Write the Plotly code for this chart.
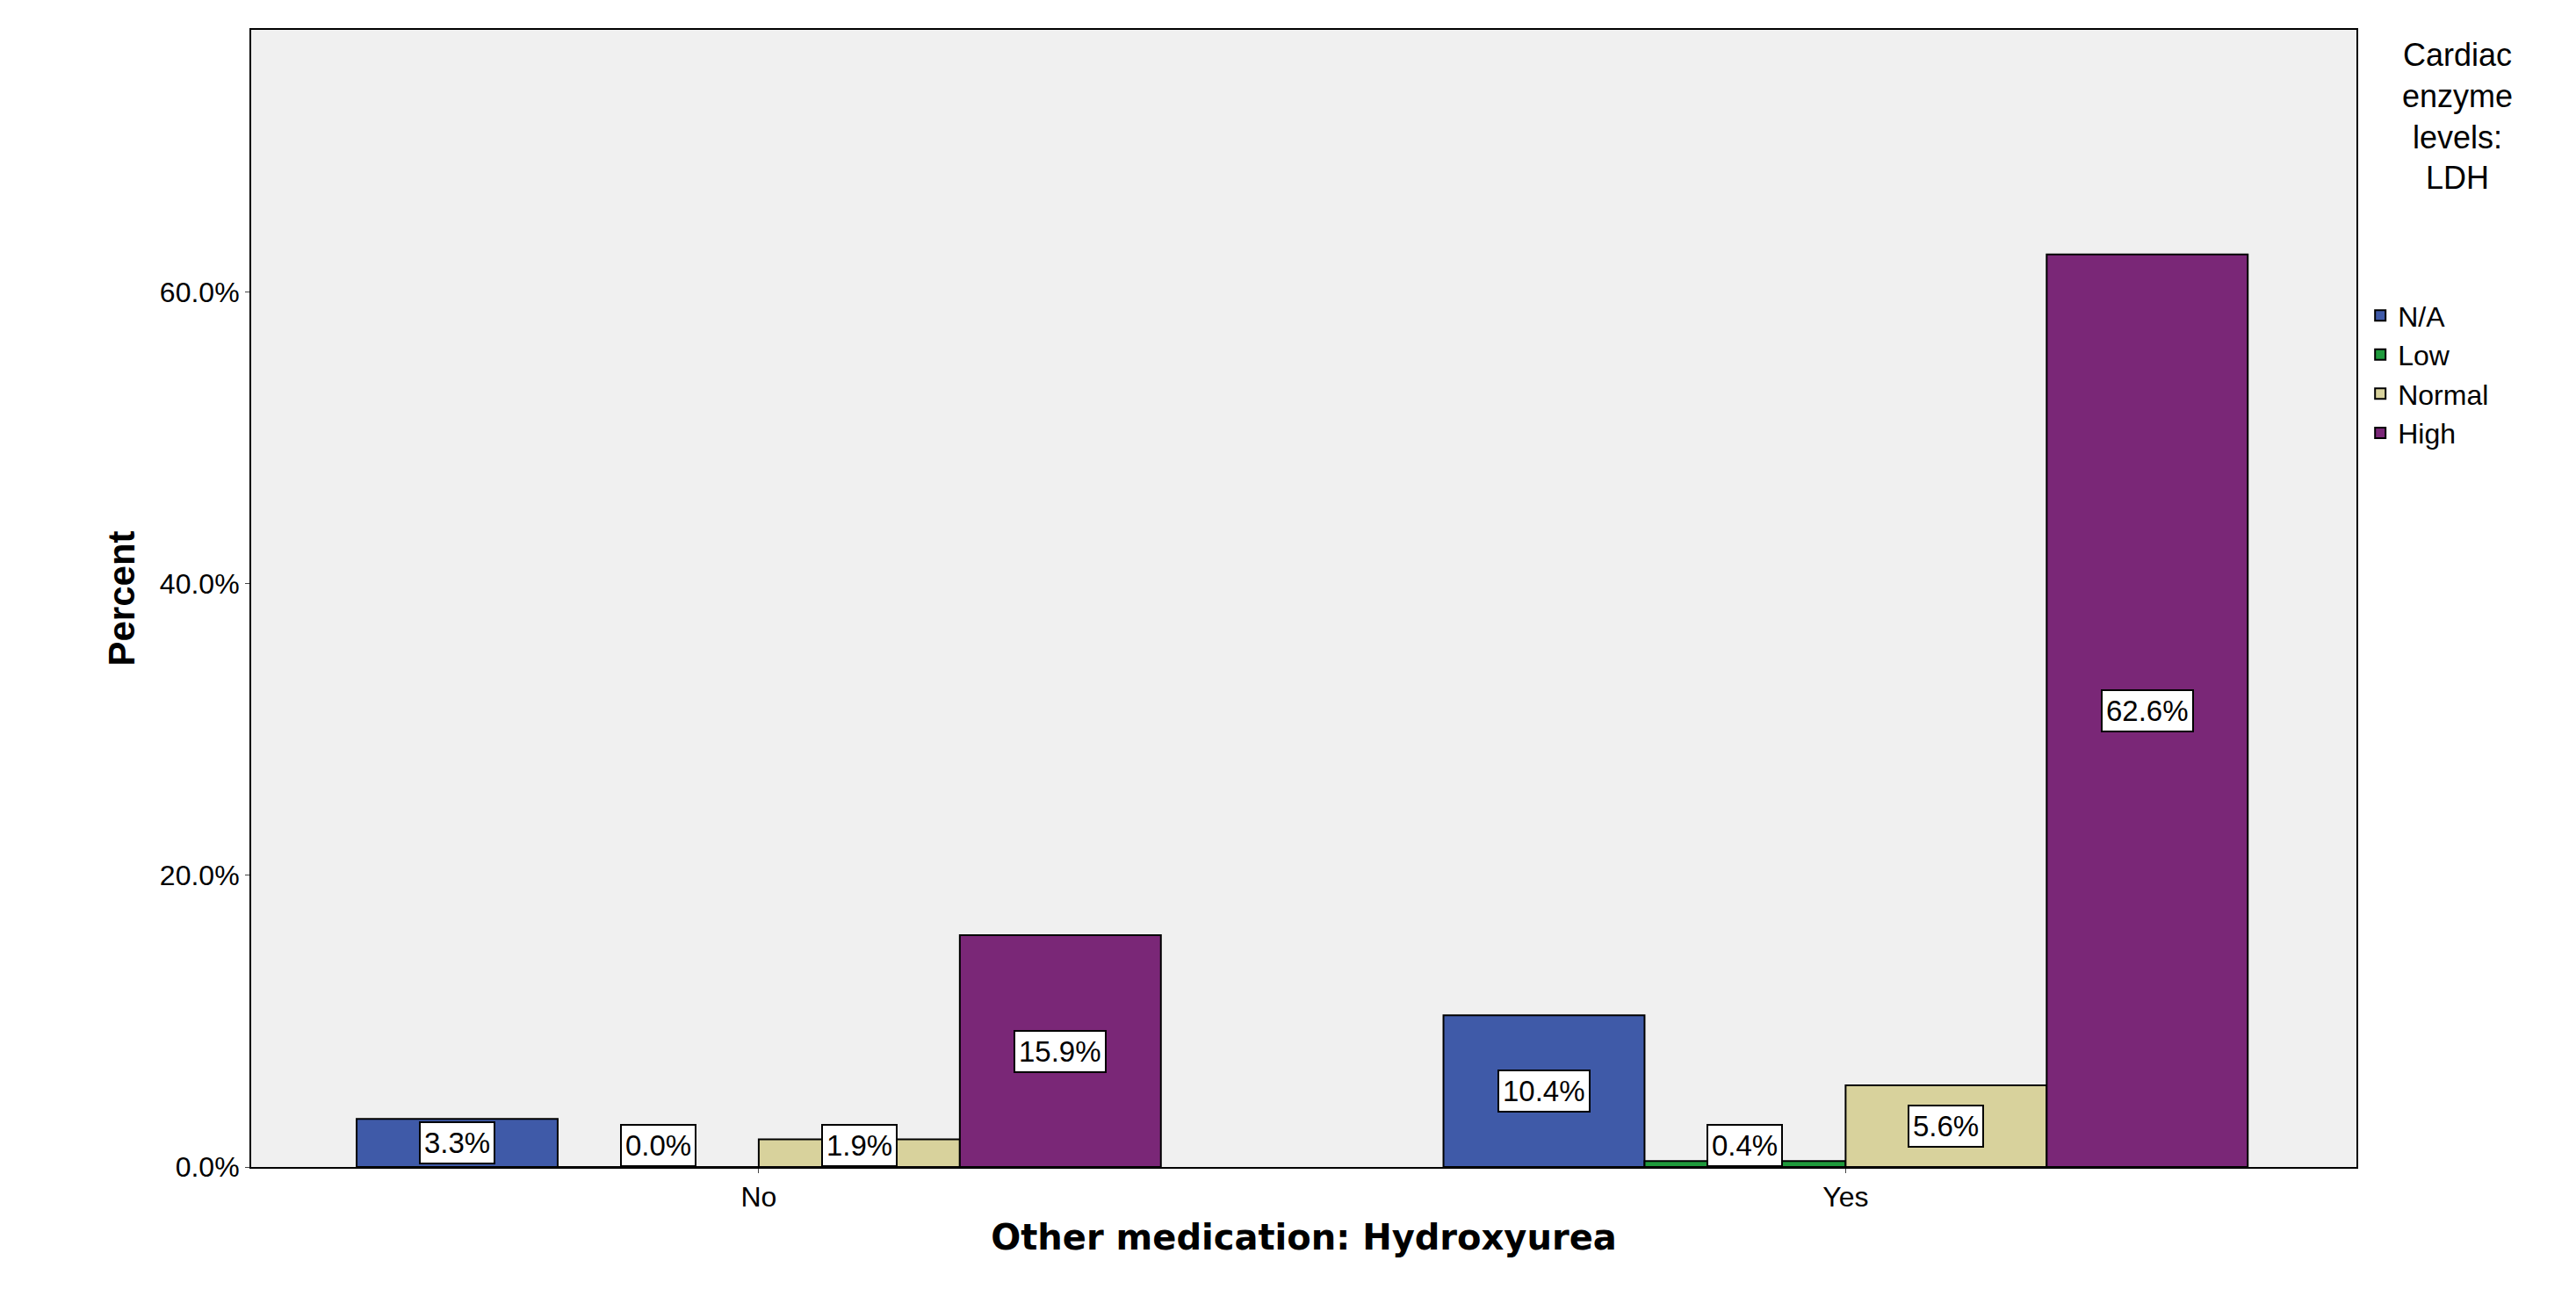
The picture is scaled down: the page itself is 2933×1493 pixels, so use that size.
import plotly.graph_objects as go

categories = ["No", "Yes"]
series = ["N/A", "Low", "Normal", "High"]
values = {
    "N/A": [3.3, 10.4],
    "Low": [0.0, 0.4],
    "Normal": [1.9, 5.6],
    "High": [15.9, 62.6],
}
colors = {"N/A": "#3f5aa8", "Low": "#1f9a3c", "Normal": "#d8d29c", "High": "#7a2777"}
yticks = [0, 20, 40, 60]

w = 0.185
fig = go.Figure()
ann = []
for i, s in enumerate(series):
    xs = [c + (i - 1.5) * w for c in range(len(categories))]
    fig.add_trace(go.Bar(x=xs, y=values[s], width=w, name=s,
                         marker=dict(color=colors[s], line=dict(color="black", width=2))))
    for x, v in zip(xs, values[s]):
        ann.append(dict(x=x, y=max(v / 2, 1.5), text=f"{v:.1f}%", showarrow=False,
                        bgcolor="white", bordercolor="black", borderwidth=2, borderpad=4,
                        font=dict(size=33, color="black")))
ann.append(dict(xref="paper", yref="paper", x=1.048, y=0.995, xanchor="center", yanchor="top",
                text="Cardiac<br>enzyme<br>levels:<br>LDH", showarrow=False, align="center",
                font=dict(size=36, color="black")))

fig.update_layout(
    width=2933, height=1493,
    margin=dict(l=278, r=258, t=26, b=172),
    plot_bgcolor="#f0f0f0", paper_bgcolor="white",
    font=dict(family="Liberation Sans, Arial", color="black", size=32),
    annotations=ann, showlegend=True,
    legend=dict(x=1.003, y=0.77, xanchor="left", yanchor="top",
                font=dict(size=32), traceorder="normal", itemsizing="constant",
                tracegroupgap=0),
    xaxis=dict(tickvals=list(range(len(categories))), ticktext=categories, range=[-0.467, 1.47],
               showline=True, linecolor="black", linewidth=2, ticks="outside", mirror=True,
               title=dict(text="<b>Other medication: Hydroxyurea</b>",
                          font=dict(size=40, family="DejaVu Sans"))),
    yaxis=dict(tickvals=yticks, ticktext=[f"{t:.1f}%" for t in yticks], range=[0, 78],
               showgrid=False, zeroline=False, showline=True, linecolor="black", linewidth=2,
               ticks="outside", mirror=True,
               title=dict(text="<b>Percent</b>", font=dict(size=42))),
)
fig.write_html("out.html")
